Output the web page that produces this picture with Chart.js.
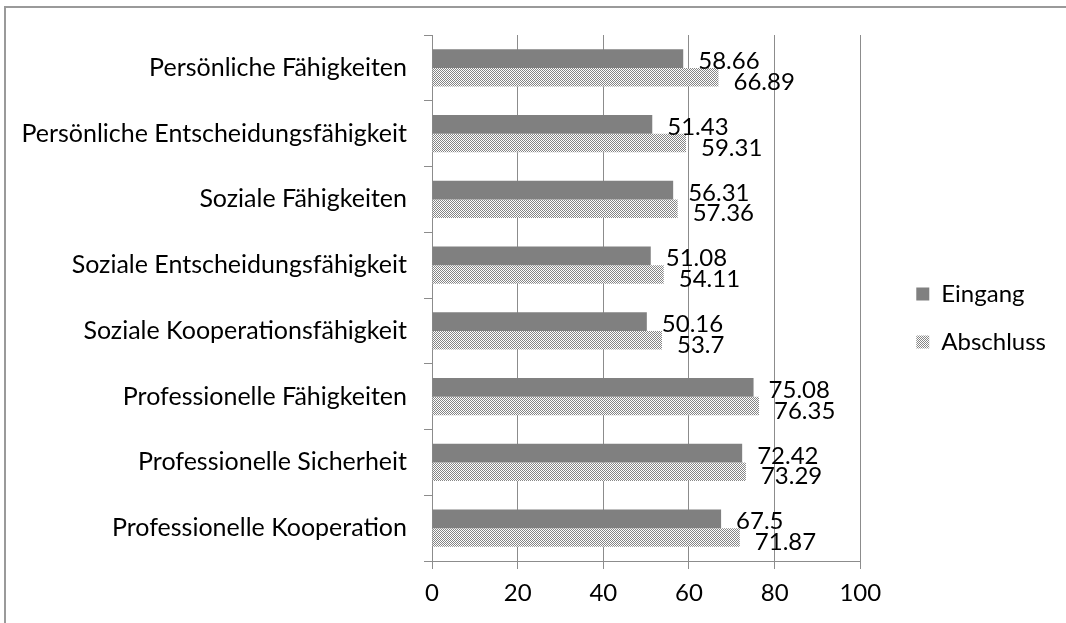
<!DOCTYPE html>
<html>
<head>
<meta charset="utf-8">
<script src="https://cdn.jsdelivr.net/npm/chart.js@4.4.0/dist/chart.umd.min.js"></script>
<style>
  html, body { margin: 0; background: #fff; overflow: hidden; }
  #frame { position: absolute; left: 4px; top: 6px; width: 1070px; height: 630px; border-top: 2px solid #9a9a9a; border-left: 2px solid #9a9a9a; }
  #wrap { position: absolute; left: 0; top: 0; width: 1066px; height: 623px; }
</style>
</head>
<body>
<div id="frame"></div>
<div id="wrap"><canvas id="chart" width="1066" height="623"></canvas></div>
<script>
// categories, top to bottom
const categories = [
  'Persönliche Fähigkeiten',
  'Persönliche Entscheidungsfähigkeit',
  'Soziale Fähigkeiten',
  'Soziale Entscheidungsfähigkeit',
  'Soziale Kooperationsfähigkeit',
  'Professionelle Fähigkeiten',
  'Professionelle Sicherheit',
  'Professionelle Kooperation'
];
const eingang = [58.66, 51.43, 56.31, 51.08, 50.16, 75.08, 72.42, 67.5];
const abschluss = [66.89, 59.31, 57.36, 54.11, 53.7, 76.35, 73.29, 71.87];
const xTicks = [0, 20, 40, 60, 80, 100];

// checkered fill for Abschluss
function checker() {
  var c = document.createElement('canvas');
  c.width = 2; c.height = 2;
  var g = c.getContext('2d');
  g.fillStyle = '#ffffff';
  g.fillRect(0, 0, 2, 2);
  g.fillStyle = '#858585';
  g.fillRect(0, 0, 1, 1);
  g.fillRect(1, 1, 1, 1);
  return g.createPattern(c, 'repeat');
}
const pattern = checker();

const FONT = 'Lato';

// value labels at the bar ends
const valueLabels = {
  id: 'valueLabels',
  afterDatasetsDraw(chart) {
    var ctx = chart.ctx;
    ctx.save();
    ctx.font = '24px ' + FONT;
    ctx.fillStyle = '#000';
    ctx.textAlign = 'left';
    ctx.textBaseline = 'middle';
    chart.data.datasets.forEach(function (ds, i) {
      var dy = i == 0 ? 3 : 5;
      chart.getDatasetMeta(i).data.forEach(function (bar, j) {
        ctx.fillText(String(ds.data[j]), bar.x + 15, bar.y + dy);
      });
    });
    ctx.restore();
  }
};

// nudge the legend into place without touching the plot area
const legendShift = {
  id: 'legendShift',
  afterLayout(chart) {
    var lg = chart.legend;
    lg.left += 32; lg.right += 32;
    lg.top -= 11; lg.bottom -= 11;
  }
};

new Chart(document.getElementById('chart'), {
  type: 'bar',
  data: {
    labels: categories,
    datasets: [
      { label: 'Eingang', data: eingang, backgroundColor: '#808080', borderWidth: 0 },
      { label: 'Abschluss', data: abschluss, backgroundColor: pattern, borderWidth: 0 }
    ]
  },
  options: {
    indexAxis: 'y',
    responsive: false,
    animation: false,
    categoryPercentage: 0.57,
    barPercentage: 1,
    layout: { padding: { top: 35, right: 42, left: 0, bottom: 0 } },
    scales: {
      x: {
        min: 0, max: 100,
        afterBuildTicks: function (s) { s.ticks = xTicks.map(function (v) { return { value: v }; }); },
        afterFit: function (s) { s.height = 62; },
        grid: { color: '#8c8c8c', lineWidth: 1, tickLength: 8, drawTicks: true },
        border: { color: '#8c8c8c', width: 1 },
        ticks: { color: '#000', font: { family: FONT, size: 24 }, padding: 10 }
      },
      y: {
        afterFit: function (s) { s.width = 432; },
        grid: { drawOnChartArea: false, color: '#8c8c8c', tickLength: 8, offset: true },
        border: { color: '#8c8c8c', width: 1 },
        ticks: { color: '#000', font: { family: FONT, size: 25 }, padding: 17 }
      }
    },
    plugins: {
      legend: {
        position: 'right',
        labels: { color: '#000', font: { family: FONT, size: 24 }, boxWidth: 13, boxHeight: 13, padding: 24 }
      },
      tooltip: { enabled: false }
    }
  },
  plugins: [valueLabels, legendShift]
});
</script>
</body>
</html>
